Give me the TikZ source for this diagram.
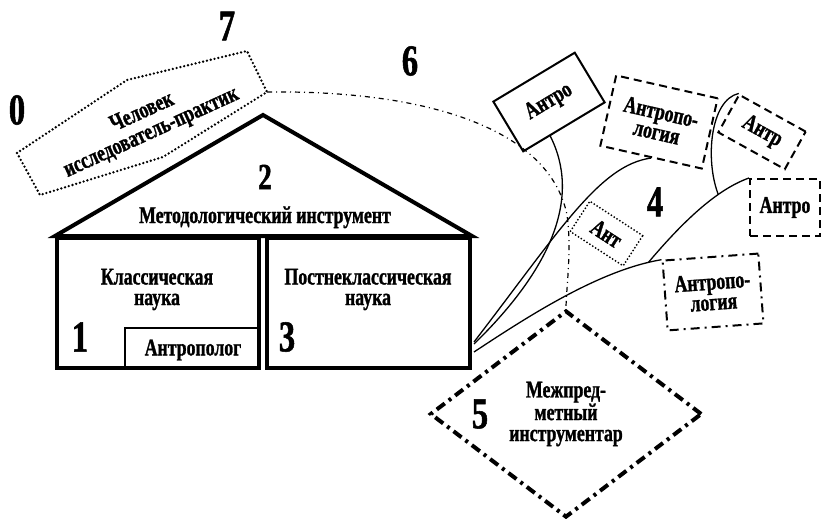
\documentclass[tikz,border=0pt]{standalone}
\usepackage{fontspec}
\setmainfont{Liberation Serif}[FakeStretch=0.74,BoldFeatures={FakeBold=1.2}]
\usetikzlibrary{shapes.geometric,calc}
\begin{document}
\begin{tikzpicture}[x=1pt,y=-1pt,
  txt/.style={font=\bfseries\fontsize{24}{20.5}\selectfont, align=center, inner sep=0pt},
  num/.style={font=\bfseries\fontsize{44}{44}\selectfont, inner sep=0pt},
  thick4/.style={line width=4pt},
  boxsolid/.style={draw, line width=2pt, inner sep=0pt, align=center, font=\bfseries\fontsize{24}{20.5}\selectfont},
  boxdash/.style={boxsolid, dash pattern=on 8pt off 5pt},
  boxdot/.style={boxsolid, line width=2pt, dash pattern=on 0pt off 3.4pt, line cap=round},
  boxdashdot/.style={boxsolid, dash pattern=on 9pt off 5pt on 2pt off 5pt},
  conn/.style={line width=1.3pt},
  hexdot/.style={line width=2.6pt, dash pattern=on 0pt off 3.9pt, line cap=round},
  dd/.style={line width=1.2pt, dash pattern=on 5pt off 4pt on 1pt off 4pt}]
\useasboundingbox (0,0) rectangle (822,519);

% house
\node[draw, line width=2.5pt, minimum width=134pt, minimum height=40pt, inner sep=0pt] (AP) at (192,348) {};
\node[txt] (APt) at (193,350) {Антрополог};
\node[draw, thick4, minimum width=202pt, minimum height=130pt, inner sep=0pt] (L) at (158,303) {};
\node[draw, thick4, minimum width=203pt, minimum height=130pt, inner sep=0pt] (R) at (368.5,303) {};
\coordinate (apex) at (263,115);
\draw[thick4, line join=miter] (L.north west) -- (apex) -- (R.north east) -- cycle;
\node[txt, anchor=base] (MI) at (265,223) {Методологический инструмент};
\node[txt, anchor=base] (KN) at (157,305) {Классическая\\наука};
\node[txt, anchor=base] (PN) at (368,305) {Постнеклассическая\\наука};

% numbers
\node[num] (n0) at (17,110) {0};
\node[num] (n7) at (227,26) {7};
\node[num] (n6) at (410,61) {6};
\node[num, font=\bfseries\fontsize{37}{37}\selectfont] (n2) at (265,177) {2};
\node[num] (n1) at (80,337) {1};
\node[num] (n3) at (287,337) {3};
\node[num] (n4) at (655,202) {4};
\node[num] (n5) at (480,414) {5};

% hexagon
\coordinate (h1) at (17,153);
\coordinate (h2) at (40,195);
\coordinate (h3) at (163,157);
\coordinate (h4) at (267,92);
\coordinate (h5) at (247,51);
\coordinate (h6) at (127,80);
\draw[hexdot] (h1) -- (h2) -- (h3) -- (h4) -- (h5) -- (h6) -- cycle;
\node[txt, font=\bfseries\fontsize{24}{22}\selectfont, rotate=24.5] (H) at (147,123) {Человек\\исследователь-практик};

% diamond
\node[draw, diamond, aspect=1.3, line width=4pt, dash pattern=on 10pt off 5pt on 3pt off 5pt,
  minimum width=272pt, minimum height=207pt, inner sep=0pt, align=center,
  font=\bfseries\fontsize{24}{21}\selectfont] (D) at (566,414) {Межпред-\\метный\\инструментар};

% boxes
\node[boxsolid, rotate=31, minimum width=95pt, minimum height=58pt] (A1) at (549,102) {Антро};
\node[boxdash, rotate=-12.7, minimum width=104pt, minimum height=72pt] (A2) at (659,122) {Антропо-\\логия};
\node[boxdash, rotate=-29, minimum width=76pt, minimum height=43pt] (A3) at (762,132) {Антр};
\node[boxdash, minimum width=70pt, minimum height=57pt] (A4) at (785,207.5) {Антро};
\node[boxdot, rotate=-33, minimum width=63pt, minimum height=36pt] (A5) at (606.5,233.5) {Ант};
\node[boxdashdot, rotate=4.2, minimum width=96pt, minimum height=70pt] (A6) at (713,292) {Антропо-\\логия};

% connectors
\coordinate (o1) at ($(R.south east)+(2,-28)$);
\coordinate (o2) at ($(R.south east)+(2,-26)$);
\coordinate (o3) at ($(R.south east)+(2,-18)$);
\draw[conn] (o2) .. controls (555,265) and (580,195) .. ($(A1.south west)!0.33!(A1.south east)$);
\draw[conn] (o1) .. controls (560,230) and (600,165) .. (A2.south);
\draw[conn] (o3) .. controls (530,315) and (600,270) .. (A6.north west) coordinate[pos=0.93] (b1);
\draw[conn] (b1) .. controls (680,225) and (715,190) .. (A4.north west) coordinate[pos=0.7] (b2);
\draw[conn] (b2) .. controls (705,160) and (710,100) .. (A3.north west);

% dash-dot curve 6
\draw[dd] (h4) .. controls (430,90) and (550,130) .. (567,215) .. controls (572,250) and (566,290) .. (D.north);
\end{tikzpicture}
\end{document}
